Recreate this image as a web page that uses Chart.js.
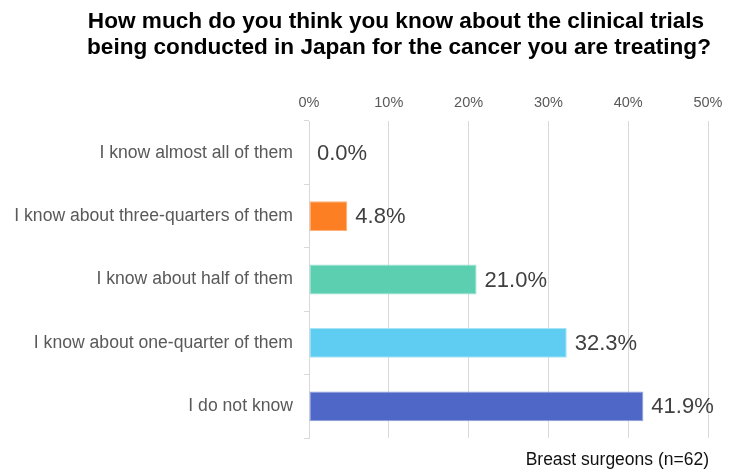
<!DOCTYPE html>
<html>
<head>
<meta charset="utf-8">
<script src="https://cdn.jsdelivr.net/npm/chart.js@4"></script>
<style>
  html, body { margin: 0; padding: 0; background: #fff; }
  #wrap { width: 732px; height: 472px; }
</style>
</head>
<body>
<div id="wrap"><canvas id="chart" width="732" height="472"></canvas></div>
<script>
const categories = [
  'I know almost all of them',
  'I know about three-quarters of them',
  'I know about half of them',
  'I know about one-quarter of them',
  'I do not know'
]
const shares = [0.0, 4.8, 21.0, 32.3, 41.9]
const barColors = ['#FD7F23', '#FD7F23', '#5DCFB1', '#5FCDF2', '#4F68C8']
const barBorders = ['#FDB07A', '#FDB07A', '#9FE3D1', '#A6E4F8', '#8E9FDC']
const titleLines = [
  'How much do you think you know about the clinical trials',
  'being conducted in Japan for the cancer you are treating?'
]
const footnote = 'Breast surgeons (n=62)'

const FONT = '"Liberation Sans", Arial, sans-serif'

const textPlugin = {
  id: 'texts',
  afterDatasetsDraw (chart) {
    const ctx = chart.ctx
    ctx.save()
    ctx.fillStyle = '#404040'
    ctx.font = '22px ' + FONT
    ctx.textAlign = 'left'
    ctx.textBaseline = 'middle'
    chart.getDatasetMeta(0).data.forEach((bar, i) => {
      ctx.fillText(shares[i].toFixed(1) + '%', bar.x + 8, bar.y + 1)
    })
    ctx.restore()
  },
  afterDraw (chart) {
    const ctx = chart.ctx
    ctx.save()
    ctx.fillStyle = '#000'
    ctx.font = 'bold 22.6px ' + FONT
    ctx.textAlign = 'center'
    ctx.textBaseline = 'middle'
    ctx.fillText(titleLines[0], 396, 22)
    ctx.fillText(titleLines[1], 399, 48)
    ctx.font = '17.5px ' + FONT
    ctx.fillStyle = '#111'
    ctx.textAlign = 'right'
    ctx.fillText(footnote, 709, 460)
    ctx.restore()
  }
}

new Chart(document.getElementById('chart'), {
  type: 'bar',
  data: {
    labels: categories,
    datasets: [{
      data: shares,
      backgroundColor: barColors,
      borderColor: barBorders,
      borderWidth: 1,
      borderSkipped: false,
      barPercentage: 0.94,
      categoryPercentage: 0.5
    }]
  },
  options: {
    indexAxis: 'y',
    responsive: false,
    animation: false,
    layout: { padding: { left: 0, right: 24, top: 91, bottom: 34 } },
    plugins: {
      legend: { display: false },
      tooltip: { enabled: false }
    },
    scales: {
      x: {
        position: 'top',
        min: 0,
        max: 50,
        afterFit (scale) { scale.height = 30 },
        ticks: {
          stepSize: 10,
          padding: 9,
          color: '#595959',
          font: { family: FONT, size: 14.5 },
          callback: (v) => v + '%'
        },
        grid: { color: '#d9d9d9', drawTicks: false },
        border: { display: false }
      },
      y: {
        afterFit (scale) { scale.width = 309 },
        ticks: {
          padding: 11,
          color: '#595959',
          font: { family: FONT, size: 17.6 }
        },
        grid: {
          offset: true,
          drawOnChartArea: false,
          tickLength: 5,
          color: '#d9d9d9'
        },
        border: { display: true, color: '#d9d9d9' }
      }
    }
  },
  plugins: [textPlugin]
})
</script>
</body>
</html>
